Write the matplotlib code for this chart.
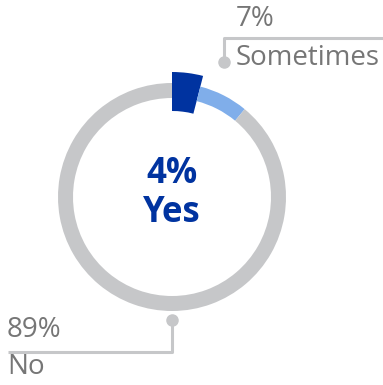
import matplotlib
matplotlib.use("Agg")
import matplotlib.pyplot as plt

labels = ["Yes", "Sometimes", "No"]
values = [4, 7, 89]
colors = ["#0033A0", "#80AEEA", "#C6C7C9"]

W, H = 383, 385
fig = plt.figure(figsize=(W / 100, H / 100), dpi=100)
ax = fig.add_axes([0, 0, 1, 1])
ax.set_xlim(0, W)
ax.set_ylim(0, H)
ax.set_aspect("equal")
ax.axis("off")

cx, cy = 172, H - 197
r_out, width = 114, 15
wedges, _ = ax.pie(values, colors=colors, startangle=90, counterclock=False,
                   radius=r_out, center=(cx, cy),
                   wedgeprops=dict(width=width, linewidth=0))
ax.set_xlim(0, W)
ax.set_ylim(0, H)
# highlighted slice sticks out on both sides
wedges[0].set_radius(125)
wedges[0].set_width(39)

font = "Open Sans"
gray_txt = "#767676"
line_c = "#C6C7C9"

ax.text(cx, H - 174, f"{values[0]}%", ha="center", va="center", fontsize=25,
        fontweight="bold", color=colors[0], family=font)
ax.text(cx, H - 213, labels[0], ha="center", va="center", fontsize=25,
        fontweight="bold", color=colors[0], family=font)

# Sometimes callout
ax.plot([224, 224, W], [H - 62, H - 38, H - 38], color=line_c, lw=2.2, solid_capstyle="butt")
ax.plot([224], [H - 62], "o", color=line_c, ms=8)
ax.text(236, H - 19, f"{values[1]}%", ha="left", va="center", fontsize=20, color=gray_txt, family=font)
ax.text(236, H - 58, labels[1], ha="left", va="center", fontsize=20, color=gray_txt, family=font)

# No callout
ax.plot([172, 172, 8], [H - 320, H - 352, H - 352], color=line_c, lw=2.2, solid_capstyle="butt")
ax.plot([172], [H - 320], "o", color=line_c, ms=8)
ax.text(7, H - 330, f"{values[2]}%", ha="left", va="center", fontsize=20, color=gray_txt, family=font)
ax.text(7, H - 367, labels[2], ha="left", va="center", fontsize=20, color=gray_txt, family=font)

fig.savefig("out.png", dpi=100)
